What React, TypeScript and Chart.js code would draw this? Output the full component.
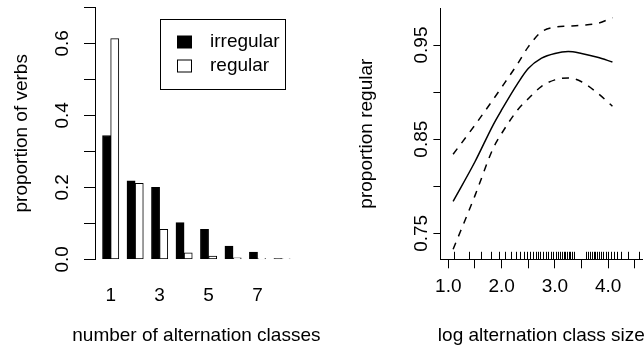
import React, { useEffect, useRef } from 'react';
import { Chart, registerables } from 'chart.js';

Chart.register(...registerables);

const FONT = "'Liberation Sans', Arial, Helvetica, sans-serif";
Chart.defaults.font.family = FONT;
Chart.defaults.color = '#000';

// ---- Left panel: proportion of verbs by number of alternation classes ----
const CLASS_CATEGORIES = ['1', '2', '3', '4', '5', '6', '7', '8'];
const IRREGULAR = [0.344, 0.218, 0.2, 0.102, 0.083, 0.037, 0.02, 0.002];
const REGULAR = [0.613, 0.211, 0.083, 0.018, 0.009, 0.004, 0.002, 0.001];
const LEFT_Y_TICKS = [0, 0.1, 0.2, 0.3, 0.4, 0.5, 0.6, 0.7];
const LEFT_X_TITLE = 'number of alternation classes';
const LEFT_Y_TITLE = 'proportion of verbs';

// ---- Right panel: proportion regular vs log alternation class size ----
const LOG_SIZE = [1.09, 1.5, 1.84, 2.0, 2.3, 2.5, 2.75, 3.0, 3.25, 3.5, 3.8, 4.08];
const FIT = [0.784, 0.826, 0.865, 0.881, 0.909, 0.925, 0.936, 0.941, 0.943, 0.941, 0.937, 0.932];
const UPPER = [0.834, 0.865, 0.892, 0.905, 0.93, 0.948, 0.964, 0.969, 0.97, 0.971, 0.973, 0.979];
const LOWER = [0.733, 0.79, 0.84, 0.856, 0.881, 0.893, 0.906, 0.913, 0.915, 0.911, 0.899, 0.885];
const RUG = [
  1.105, 1.387, 1.606, 1.793, 1.949, 2.06, 2.168, 2.262, 2.337, 2.418, 2.48, 2.54, 2.59,
  2.637, 2.687, 2.73, 2.77, 2.83, 2.874, 2.925, 2.969, 3.019, 3.063, 3.1, 3.131, 3.163,
  3.194, 3.225, 3.256, 3.288, 3.319, 3.35, 3.581, 3.625, 3.662, 3.688, 3.725, 3.756,
  3.788, 3.831, 3.863, 3.894, 3.956, 3.988, 4.05, 4.113, 4.163, 4.238, 4.375, 4.58,
];
const RIGHT_X_TICKS = [1, 1.5, 2, 2.5, 3, 3.5, 4, 4.5];
const RIGHT_Y_TICKS = [0.75, 0.8, 0.85, 0.9, 0.95];
const RIGHT_X_TITLE = 'log alternation class size';
const RIGHT_Y_TITLE = 'proportion regular';

const TICK_FONT = { family: FONT, size: 19, lineHeight: 1 };
const TITLE_FONT = { family: FONT, size: 19, lineHeight: 1 };

const zeroPad = (s: any) => {
  s.paddingTop = 0;
  s.paddingBottom = 0;
  s.paddingLeft = 0;
  s.paddingRight = 0;
};

// bottom axis title drawn without Chart.js's maxWidth squeeze
const xTitlePlugin = (text: string) => ({
  id: 'xTitle',
  afterDraw(chart: any) {
    const { ctx, chartArea } = chart;
    ctx.save();
    ctx.fillStyle = '#000';
    ctx.font = `19px ${FONT}`;
    ctx.textAlign = 'center';
    ctx.textBaseline = 'alphabetic';
    ctx.fillText(text, (chartArea.left + chartArea.right) / 2, 341);
    ctx.restore();
  },
});

const legendPlugin = {
  id: 'boxLegend',
  afterDraw(chart: any) {
    const { ctx } = chart;
    ctx.save();
    ctx.lineWidth = 1;
    ctx.strokeStyle = '#000';
    ctx.strokeRect(160.5, 19.5, 125, 70);
    chart.data.datasets.forEach((ds: any, i: number) => {
      const cy = 42 + i * 24;
      ctx.fillStyle = ds.backgroundColor;
      ctx.fillRect(177.5, cy - 6, 14, 12);
      ctx.strokeStyle = ds.borderColor;
      ctx.strokeRect(177.5, cy - 6, 14, 12);
      ctx.fillStyle = '#000';
      ctx.font = `19px ${FONT}`;
      ctx.textBaseline = 'middle';
      ctx.textAlign = 'left';
      ctx.fillText(ds.label, 210, cy);
    });
    ctx.restore();
  },
};

const rugPlugin = {
  id: 'rug',
  afterDatasetsDraw(chart: any) {
    const { ctx, chartArea, scales } = chart;
    const x = scales.x;
    ctx.save();
    ctx.strokeStyle = '#000';
    ctx.lineWidth = 1;
    ctx.beginPath();
    RUG.forEach((v) => {
      const px = Math.round(x.getPixelForValue(v)) + 0.5;
      ctx.moveTo(px, chartArea.bottom);
      ctx.lineTo(px, chartArea.bottom - 7.5);
    });
    ctx.stroke();
    ctx.restore();
  },
};

function LeftChart() {
  const ref = useRef<HTMLCanvasElement>(null);
  useEffect(() => {
    const chart = new Chart(ref.current as HTMLCanvasElement, {
      type: 'bar',
      data: {
        datasets: [
          {
            label: 'irregular',
            data: IRREGULAR.map((v, i) => ({ x: 3 * i + 1.5, y: v })),
            backgroundColor: '#000',
            borderColor: '#000',
            borderWidth: 1,
            borderSkipped: false,
            grouped: false,
            barPercentage: 1,
            categoryPercentage: 1,
          },
          {
            label: 'regular',
            data: REGULAR.map((v, i) => ({ x: 3 * i + 2.5, y: v })),
            backgroundColor: '#fff',
            borderColor: '#000',
            borderWidth: 1,
            borderSkipped: false,
            grouped: false,
            barPercentage: 1,
            categoryPercentage: 1,
          },
        ] as any,
      },
      options: {
        animation: false,
        responsive: false,
        devicePixelRatio: 1,
        layout: { padding: { top: 7.3, right: 24.3, bottom: 0, left: 0 } },
        plugins: { legend: { display: false }, tooltip: { enabled: false } },
        scales: {
          x: {
            type: 'linear',
            min: 0.08,
            max: 24.92,
            bounds: 'data',
            offset: false,
            afterBuildTicks: (s: any) => {
              s.ticks = CLASS_CATEGORIES.map((_, i) => ({ value: 3 * i + 2 })).filter((_, i) => i % 2 === 0);
            },
            afterFit: (s: any) => {
              s.height = 352 - 259.3;
              zeroPad(s);
            },
            ticks: {
              autoSkip: false,
              minRotation: 0,
              maxRotation: 0,
              padding: 27.2,
              font: TICK_FONT,
              color: '#000',
              callback: (v: any) => CLASS_CATEGORIES[Math.round((Number(v) - 2) / 3)],
            },
            grid: { display: false, drawTicks: false, offset: false },
            border: { display: false },
            title: { display: false },
          },
          y: {
            type: 'linear',
            min: 0,
            max: 0.7,
            bounds: 'data',
            afterBuildTicks: (s: any) => {
              s.ticks = LEFT_Y_TICKS.map((v) => ({ value: v }));
            },
            afterFit: (s: any) => {
              s.width = 95;
              zeroPad(s);
            },
            ticks: {
              autoSkip: false,
              minRotation: 90,
              maxRotation: 90,
              crossAlign: 'center',
              padding: 8.3,
              font: TICK_FONT,
              color: '#000',
              callback: (v: any, i: number) => (i % 2 === 0 ? Number(v).toFixed(1) : ''),
            },
            grid: { drawOnChartArea: false, drawTicks: true, tickLength: 11, color: '#000', lineWidth: 1 },
            border: { display: true, color: '#000', width: 1 },
            title: {
              display: true,
              text: LEFT_Y_TITLE,
              font: TITLE_FONT,
              color: '#000',
              padding: { top: 12.5, bottom: 0 },
            },
          },
        },
      } as any,
      plugins: [legendPlugin, xTitlePlugin(LEFT_X_TITLE)],
    });
    return () => chart.destroy();
  }, []);
  return (
    <canvas ref={ref} width={322} height={352} style={{ position: 'absolute', left: 0, top: 0 }} />
  );
}

function RightChart() {
  const ref = useRef<HTMLCanvasElement>(null);
  useEffect(() => {
    const line = (label: string, ys: number[], dash: number[]) => ({
      label,
      data: LOG_SIZE.map((x, i) => ({ x, y: ys[i] })),
      borderColor: '#000',
      backgroundColor: '#000',
      borderWidth: 1.5,
      borderDash: dash,
      pointRadius: 0,
      fill: false,
      cubicInterpolationMode: 'monotone',
    });
    const chart = new Chart(ref.current as HTMLCanvasElement, {
      type: 'line',
      data: {
        datasets: [line('fit', FIT, []), line('upper', UPPER, [7, 7]), line('lower', LOWER, [7, 7])] as any,
      },
      options: {
        animation: false,
        responsive: false,
        devicePixelRatio: 1,
        layout: { padding: { top: 8, right: 2, bottom: 0, left: 0 } },
        plugins: { legend: { display: false }, tooltip: { enabled: false } },
        scales: {
          x: {
            type: 'linear',
            min: 0.857,
            max: 4.635,
            bounds: 'data',
            afterBuildTicks: (s: any) => {
              s.ticks = RIGHT_X_TICKS.map((v) => ({ value: v }));
            },
            afterFit: (s: any) => {
              s.height = 352 - 259.3;
              zeroPad(s);
            },
            ticks: {
              autoSkip: false,
              minRotation: 0,
              maxRotation: 0,
              padding: 8.7,
              font: TICK_FONT,
              color: '#000',
              callback: (v: any) => (Number.isInteger(Number(v)) ? Number(v).toFixed(1) : ''),
            },
            grid: { drawOnChartArea: false, drawTicks: true, tickLength: 9, color: '#000', lineWidth: 1 },
            border: { display: true, color: '#000', width: 1 },
            title: { display: false },
          },
          y: {
            type: 'linear',
            min: 0.7224,
            max: 0.9893,
            bounds: 'data',
            afterBuildTicks: (s: any) => {
              s.ticks = RIGHT_Y_TICKS.map((v) => ({ value: v }));
            },
            afterFit: (s: any) => {
              s.width = 118.7;
              zeroPad(s);
            },
            ticks: {
              autoSkip: false,
              minRotation: 90,
              maxRotation: 90,
              crossAlign: 'center',
              padding: -6.8,
              font: TICK_FONT,
              color: '#000',
              callback: (v: any, i: number) => (i % 2 === 0 ? Number(v).toFixed(2) : ''),
            },
            grid: { drawOnChartArea: false, drawTicks: true, tickLength: 7.3, color: '#000', lineWidth: 1 },
            border: { display: true, color: '#000', width: 1 },
            title: {
              display: true,
              text: RIGHT_Y_TITLE,
              font: TITLE_FONT,
              color: '#000',
              padding: { top: 35.2, bottom: 0 },
            },
          },
        },
      } as any,
      plugins: [rugPlugin, xTitlePlugin(RIGHT_X_TITLE)],
    });
    return () => chart.destroy();
  }, []);
  return (
    <canvas ref={ref} width={322} height={352} style={{ position: 'absolute', left: 322, top: 0 }} />
  );
}

export default function App() {
  return (
    <div
      style={{
        position: 'absolute',
        left: 0,
        top: 0,
        width: 644,
        height: 352,
        background: '#fff',
        overflow: 'hidden',
      }}
    >
      <LeftChart />
      <RightChart />
    </div>
  );
}
